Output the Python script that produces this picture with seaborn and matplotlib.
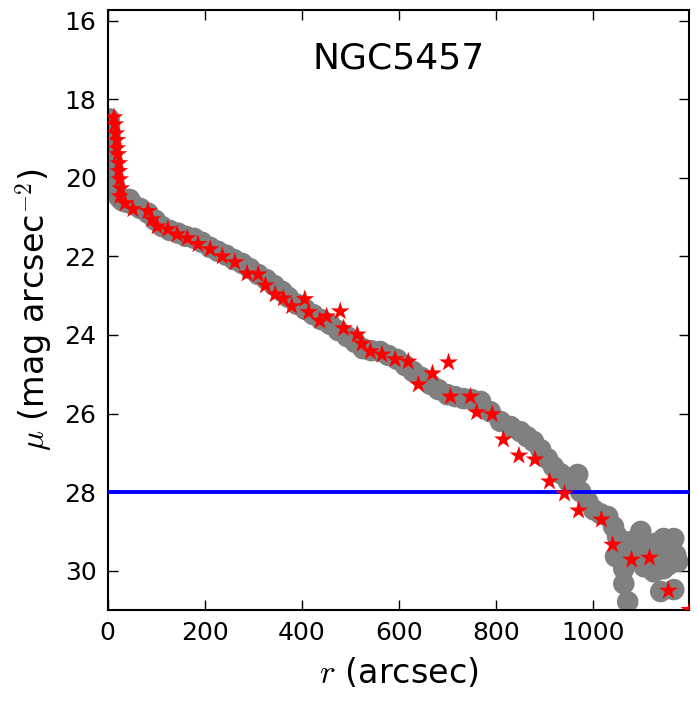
import matplotlib
matplotlib.use("Agg")
import matplotlib.pyplot as plt
import seaborn as sns

# gray profile (radius in arcsec, surface brightness in mag/arcsec^2)
prof_r = [3, 4, 4, 5, 5, 6, 6, 7, 8, 9, 10, 12, 14, 16, 19, 22, 26, 30, 34, 45,
          38, 52, 67, 83, 98, 112, 128, 145, 161, 178, 194, 211, 227, 244, 260,
          277, 293, 310, 327, 343, 359, 372, 390, 407, 423, 440, 458, 475, 493,
          510, 526, 543, 561, 578, 596, 613, 629, 646, 665, 681, 700, 716, 733,
          749, 768, 788, 809, 830, 850, 864, 877, 892, 906, 918, 933, 949, 968,
          974, 989, 1001, 1015, 1030, 1042, 1050, 1056,
          1046, 1077, 1098, 1063, 1063, 1071, 1083, 1112, 1145, 1166, 1174, 1170,
          1145, 1139, 1166, 1125, 1098, 1090, 1120, 1155, 1130, 1060,
          1125, 1155, 1105]
prof_mu = [18.5, 18.65, 18.8, 18.95, 19.1, 19.25, 19.4, 19.55, 19.7, 19.85, 19.98,
           20.1, 20.2, 20.3, 20.4, 20.47, 20.53, 20.58, 20.6, 20.55,
           20.62, 20.68, 20.78, 20.90, 21.08, 21.24, 21.34, 21.41, 21.49, 21.54,
           21.64, 21.77, 21.87, 21.97, 22.08, 22.18, 22.31, 22.46, 22.59, 22.74,
           22.89, 23.04, 23.22, 23.35, 23.48, 23.61, 23.73, 23.89, 24.04, 24.19,
           24.35, 24.40, 24.42, 24.52, 24.62, 24.78, 24.93, 25.08, 25.26, 25.39,
           25.52, 25.57, 25.62, 25.64, 25.69, 25.95, 26.20, 26.33, 26.46, 26.59,
           26.71, 26.92, 27.15, 27.35, 27.53, 27.73, 27.55, 27.99, 28.24, 28.45,
           28.55, 28.62, 28.88, 29.13, 29.39,
           29.64, 29.26, 29.00, 29.95, 30.33, 30.79, 29.52, 29.52, 29.18, 29.18,
           29.77, 29.60, 29.95, 30.53, 30.48, 30.03, 29.77, 29.40, 29.80, 29.45,
           29.30, 29.75, 29.60, 29.85, 29.90]

# red stars
star_r = [13, 15, 17, 19, 19, 21, 23, 23, 25, 27, 25, 36, 52, 83, 91, 102, 124,
          143, 164, 186, 211, 236, 262, 287, 310, 325, 345, 362, 379, 406, 414,
          437, 451, 479, 486, 514, 524, 541, 565, 592, 619, 640, 669, 702, 706,
          747, 760, 792, 815, 847, 880, 910, 941, 970, 1017, 1040, 1079, 1116,
          1155, 1199]
star_mu = [18.46, 18.64, 18.87, 19.04, 19.25, 19.40, 19.63, 19.83, 20.04, 20.27,
           20.47, 20.65, 20.80, 20.85, 21.06, 21.24, 21.31, 21.44, 21.54, 21.69,
           21.82, 22.00, 22.15, 22.44, 22.46, 22.74, 22.97, 23.07, 23.27, 23.09,
           23.42, 23.64, 23.53, 23.40, 23.83, 23.99, 24.22, 24.42, 24.50, 24.62,
           24.68, 25.26, 24.98, 24.70, 25.57, 25.57, 25.97, 26.02, 26.66, 27.07,
           27.17, 27.73, 28.04, 28.47, 28.70, 29.34, 29.72, 29.67, 30.51, 31.0]

limit_mu = 28.0
galaxy = "NGC5457"

sns.set_style("ticks")
plt.rcParams["mathtext.fontset"] = "cm"
plt.rcParams["font.family"] = ["DejaVu Sans"]
plt.rcParams["text.color"] = "black"
plt.rcParams["axes.labelcolor"] = "black"
plt.rcParams["xtick.color"] = "black"
plt.rcParams["ytick.color"] = "black"

fig = plt.figure(figsize=(6.97, 7.01), dpi=100)
ax = fig.add_axes([0.1545, 0.1298, 0.8345, 0.8559])

sns.scatterplot(x=prof_r, y=prof_mu, ax=ax, color="gray", marker="o", s=240,
                edgecolor="none", zorder=2)
ax.axhline(limit_mu, color="blue", lw=2.8, zorder=3)
sns.scatterplot(x=star_r, y=star_mu, ax=ax, color="red", marker="*", s=200,
                edgecolor="none", zorder=4)

ax.set_xlim(0, 1198)
ax.set_ylim(31, 15.73)
ax.set_xticks([0, 200, 400, 600, 800, 1000])
ax.set_yticks([16, 18, 20, 22, 24, 26, 28, 30])

ax.tick_params(direction="in", top=True, right=True, length=7, width=1,
               labelsize=18, pad=8)
for sp in ax.spines.values():
    sp.set_linewidth(1.5)
    sp.set_color("black")

ax.set_xlabel("$r$ (arcsec)", fontsize=24, labelpad=8)
ax.set_ylabel(r"$\mu$ (mag arcsec$^{-2}$)", fontsize=24, labelpad=6)
ax.text(0.5, 0.92, galaxy, transform=ax.transAxes, ha="center", va="center",
        fontsize=26)

fig.savefig("out.png", dpi=100)
